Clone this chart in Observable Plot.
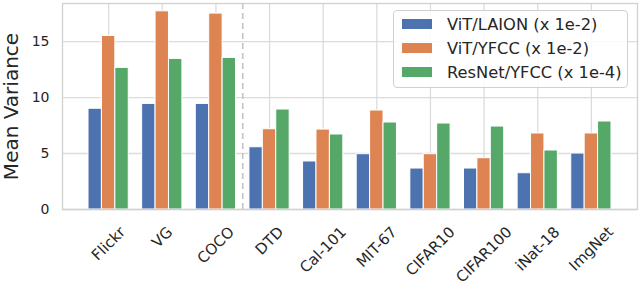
<!DOCTYPE html>
<html>
<head>
<meta charset="utf-8">
<script src="https://cdn.jsdelivr.net/npm/d3@7"></script>
<script src="https://cdn.jsdelivr.net/npm/@observablehq/plot@0.6"></script>
<style>
  html, body { margin: 0; padding: 0; background: #fff; }
  #wrap { position: relative; width: 640px; height: 286px; font-family: "DejaVu Sans", sans-serif; }
  #legend { position: absolute; left: 393px; top: 10px; width: 235px; height: 78px; box-sizing: border-box;
    border: 1px solid #d0d0d0; border-radius: 4px; background: rgba(255,255,255,0.85);
    font-size: 16.3px; color: #262626; }
  .row { position: absolute; left: 8px; height: 20px; display: flex; align-items: center; white-space: nowrap; }
  .sw { width: 30px; height: 10px; margin-right: 15px; }
</style>
</head>
<body>
<div id="wrap"><div id="legend"></div></div>
<script>
const categories = ["Flickr", "VG", "COCO", "DTD", "Cal-101", "MIT-67", "CIFAR10", "CIFAR100", "iNat-18", "ImgNet"];
const seriesNames = ["ViT/LAION (x 1e-2)", "ViT/YFCC (x 1e-2)", "ResNet/YFCC (x 1e-4)"];
const vitLaion = [9.0, 9.43, 9.43, 5.56, 4.29, 4.94, 3.66, 3.66, 3.24, 5.0];
const vitYfcc = [15.5, 17.7, 17.5, 7.17, 7.14, 8.84, 4.94, 4.58, 6.79, 6.79];
const resnetYfcc = [12.65, 13.45, 13.54, 8.93, 6.70, 7.77, 7.68, 7.41, 5.27, 7.86];
const yTicks = [0, 5, 10, 15];
const yLabel = "Mean Variance";
const colors = ["#4c72b0", "#dd8452", "#55a868"];

const seriesValues = [vitLaion, vitYfcc, resnetYfcc];
const data = [];
seriesValues.forEach((vals, s) => vals.forEach((v, i) => data.push({i, s, v, cat: categories[i], series: seriesNames[s]})));

// measure x tick labels to center their rotated boxes under ticks (matplotlib ha='center')
const xFont = 15;
const ctx = document.createElement("canvas").getContext("2d");
ctx.font = `${xFont}px "DejaVu Sans"`;
const xLabelMarks = categories.map((c, i) => {
  const w = ctx.measureText(c).width;
  const side = (w + 0.95 * xFont) / Math.SQRT2;
  return Plot.text([c], {
    x: () => i, frameAnchor: "bottom", dy: 15 + side / 2,
    rotate: -45, textAnchor: "middle", lineAnchor: "middle",
    fontSize: xFont, fill: "#262626"
  });
});

const barW = 0.25;
const chart = Plot.plot({
  width: 640,
  height: 286,
  marginLeft: 62,
  marginRight: 3,
  marginTop: 3,
  marginBottom: 77,
  style: { fontFamily: "DejaVu Sans, sans-serif", color: "#262626", background: "white", overflow: "visible" },
  x: { type: "linear", domain: [-0.86, 9.86], axis: null },
  y: { domain: [0, 18.4] },
  marks: [
    Plot.gridY(yTicks, { stroke: "#dcdcdc", strokeOpacity: 1, strokeWidth: 1.3 }),
    Plot.gridX(d3.range(categories.length), { stroke: "#dcdcdc", strokeOpacity: 1, strokeWidth: 1.3 }),
    Plot.ruleX([2.5], { stroke: "#c4c4c4", strokeWidth: 1.6, strokeDasharray: "6,4" }),
    Plot.rectY(data, {
      x1: d => d.i + (d.s - 1) * barW - barW / 2,
      x2: d => d.i + (d.s - 1) * barW + barW / 2,
      y1: 0,
      y2: "v",
      fill: d => colors[d.s],
      stroke: "white",
      strokeWidth: 1
    }),
    Plot.frame({ stroke: "#d0d0d0", strokeWidth: 1.3 }),
    Plot.axisY({ ticks: yTicks, tickSize: 0, tickPadding: 13, fontSize: 14, label: null }),
    Plot.text([yLabel], { frameAnchor: "left", dx: -51, rotate: -90, textAnchor: "middle", lineAnchor: "middle", fontSize: 20, fill: "#262626" }),
    ...xLabelMarks
  ]
});
chart.style.position = "absolute";
chart.style.left = "0px";
chart.style.top = "0px";
const wrap = document.getElementById("wrap");
wrap.insertBefore(chart, wrap.firstChild);

const legend = document.getElementById("legend");
seriesNames.forEach((name, s) => {
  const row = document.createElement("div");
  row.className = "row";
  row.style.top = (3 + s * 24) + "px";
  row.innerHTML = `<div class="sw" style="background:${colors[s]}"></div><span>${name}</span>`;
  legend.appendChild(row);
});
</script>
</body>
</html>
